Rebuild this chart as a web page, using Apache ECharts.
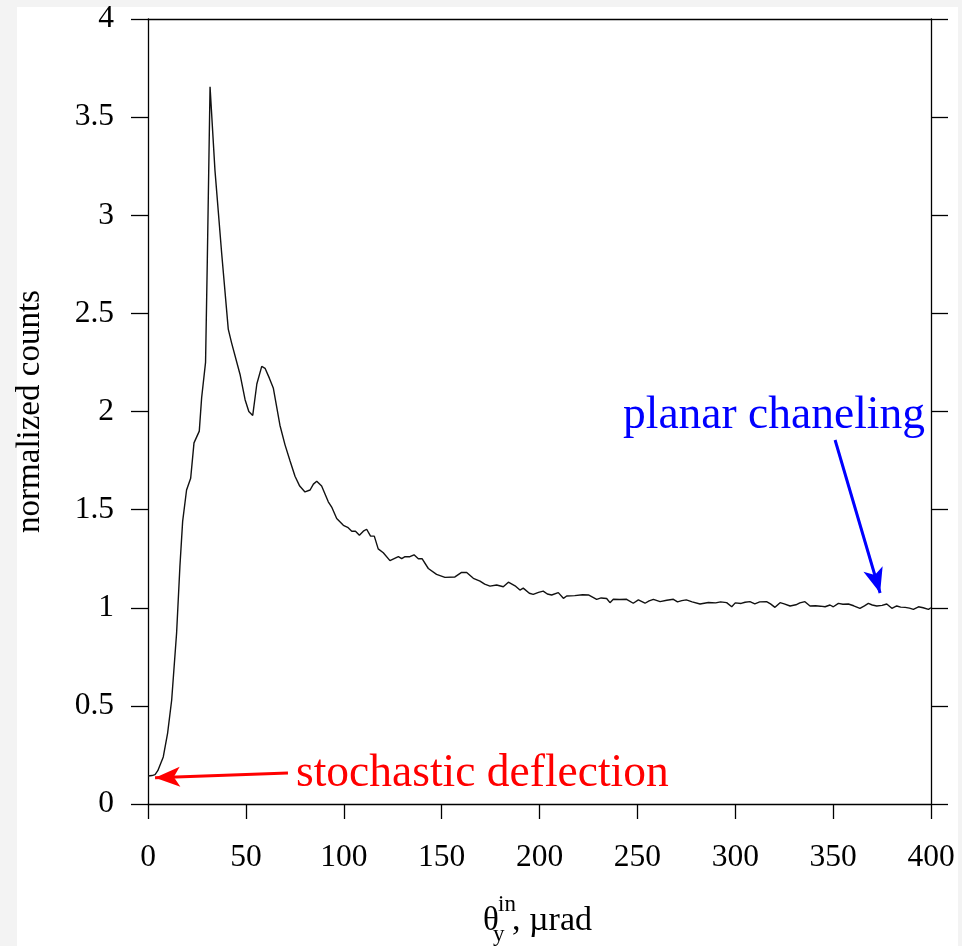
<!DOCTYPE html>
<html>
<head>
<meta charset="utf-8">
<script src="https://cdn.jsdelivr.net/npm/echarts@6/dist/echarts.min.js"></script>
<style>
  html, body { margin: 0; padding: 0; background: #f3f3f3; }
  #panel { position: absolute; left: 17px; top: 7px; width: 941px; height: 939px; background: #fff; }
  #chart { position: absolute; left: 0; top: 0; width: 962px; height: 946px; }
</style>
</head>
<body>
<div id="panel"></div>
<div id="chart"></div>
<script>
// angle theta_y^in, urad
const thetaValues = [0, 2, 3.6, 5, 7.8, 10, 12.1, 14.6, 16.3, 17.7, 19.7, 21.8, 23.5, 26.2, 27.4, 29.4, 30.3, 31.7,
  34.2, 37.6, 41.0, 42.7, 47.0, 49.6, 51.5, 53.5, 55.6, 58.1, 59.8, 62, 64.0, 67.4, 70, 72.5, 75.1, 77.5, 80.2,
  82.8, 84.5, 86.2, 88.7, 92.1, 94, 96.4, 99.8, 102, 104.1, 106, 108, 110, 111.7, 113.7, 115.6, 117.6, 120.2,
  123.6, 127.9, 129.6, 131.3, 133.8, 135.9, 138.1, 140, 143.2, 147.4, 151.7, 156.8, 160.2, 162.8, 166.2, 169.6,
  172, 174.7, 178.1, 181.5, 184.1, 187.5, 190, 191.7, 194.8, 196.8, 199.5, 201.9, 204, 206.2, 209.6, 212.2,
  213.9, 218, 222, 225, 229.2, 231.5, 234.3, 236, 237.7, 241, 244.5, 247.9, 250.5, 253.9, 256, 258.2, 261.6,
  265, 268.4, 270.5, 272.7, 275, 278, 282, 286.3, 290, 292.5, 295.6, 298.2, 300, 303, 305, 307.5, 310, 312.5,
  316, 318, 320.3, 322.9, 325, 328, 331, 333, 335.6, 338.2, 341, 343.5, 345.9, 348.4, 350.1, 352.7, 355, 357.8,
  360.5, 363.7, 366, 368, 370, 372.3, 375, 377.4, 380, 382.5, 384.5, 386.8, 389, 391, 393.6, 396, 398.7, 400];
// normalized counts
const countValues = [0.143, 0.145, 0.15, 0.17, 0.24, 0.36, 0.53, 0.87, 1.21, 1.44, 1.60, 1.66, 1.84, 1.90, 2.07, 2.25, 2.77, 3.655,
  3.23, 2.81, 2.42, 2.35, 2.19, 2.06, 2.00, 1.98, 2.14, 2.23, 2.22, 2.17, 2.12, 1.93, 1.83, 1.75, 1.67, 1.62, 1.59,
  1.60, 1.63, 1.645, 1.62, 1.54, 1.51, 1.455, 1.42, 1.41, 1.39, 1.39, 1.37, 1.39, 1.40, 1.365, 1.365, 1.30, 1.28,
  1.24, 1.26, 1.25, 1.26, 1.26, 1.27, 1.25, 1.25, 1.20, 1.17, 1.155, 1.157, 1.18, 1.18, 1.15, 1.136,
  1.12, 1.11, 1.116, 1.107, 1.13, 1.112, 1.09, 1.10, 1.074, 1.068, 1.078, 1.085, 1.07, 1.065, 1.077, 1.048,
  1.06, 1.062, 1.066, 1.065, 1.043, 1.05, 1.047, 1.026, 1.043, 1.042, 1.043, 1.023, 1.04, 1.023, 1.035, 1.043, 1.031,
  1.038, 1.043, 1.03, 1.036, 1.04, 1.03, 1.019, 1.027, 1.025, 1.03, 1.026, 1.005, 1.025, 1.022, 1.028, 1.031, 1.02, 1.03,
  1.031, 1.02, 1.002, 1.026, 1.02, 1.009, 1.015, 1.025, 1.031, 1.009, 1.01, 1.008, 1.005, 1.014, 1.005, 1.022, 1.018, 1.019,
  1.01, 0.997, 1.01, 1.022, 1.014, 1.009, 1.012, 1.019, 0.997, 1.009, 1.003, 1.002, 0.998, 0.992, 1.005, 1.0, 0.992, 1.0];

const xTicks = [0, 50, 100, 150, 200, 250, 300, 350, 400];
const yTicks = [0, 0.5, 1, 1.5, 2, 2.5, 3, 3.5, 4];

// annotation arrows (data coordinates: [start], [end])
const stochasticArrow = [[71.5, 0.158], [3.6, 0.134]];
const planarArrow = [[351, 1.855], [374, 1.075]];

const FONT = '"Liberation Serif", "Times New Roman", serif';
const lineData = thetaValues.map((x, i) => [x, countValues[i]]);

const chart = echarts.init(document.getElementById('chart'), null, { renderer: 'canvas' });
const axisLineStyle = { color: '#000', width: 1.3 };

chart.setOption({
  animation: false,
  grid: { left: 148, right: 31, top: 19, bottom: 142, containLabel: false },
  xAxis: [
    {
      type: 'value', position: 'bottom', min: xTicks[0], max: xTicks[xTicks.length - 1], interval: 50,
      axisLine: { show: true, lineStyle: axisLineStyle, onZero: false },
      axisTick: { show: true, inside: false, length: 15, lineStyle: axisLineStyle },
      axisLabel: { show: true, margin: 38, fontFamily: FONT, fontSize: 31.5, color: '#000' },
      splitLine: { show: false }
    },
    {
      type: 'value', position: 'top', min: 0, max: 400,
      axisLine: { show: true, lineStyle: axisLineStyle, onZero: false },
      axisTick: { show: false }, axisLabel: { show: false }, splitLine: { show: false }
    }
  ],
  yAxis: [
    {
      type: 'value', position: 'left', min: yTicks[0], max: yTicks[yTicks.length - 1], interval: 0.5,
      name: 'normalized counts', nameLocation: 'middle', nameGap: 101, nameRotate: 90,
      nameTextStyle: { fontFamily: FONT, fontSize: 33, color: '#000' },
      axisLine: { show: true, lineStyle: axisLineStyle, onZero: false },
      axisTick: { show: true, inside: false, length: 17, lineStyle: axisLineStyle },
      axisLabel: { show: true, margin: 34, fontFamily: FONT, fontSize: 31.5, color: '#000' },
      splitLine: { show: false }
    },
    {
      type: 'value', position: 'right', min: 0, max: 4, interval: 0.5,
      axisLine: { show: true, lineStyle: axisLineStyle, onZero: false },
      axisTick: { show: true, inside: false, length: 17, lineStyle: axisLineStyle },
      axisLabel: { show: false }, splitLine: { show: false }
    }
  ],
  series: [
    {
      type: 'line', xAxisIndex: 0, yAxisIndex: 0, data: lineData,
      showSymbol: false, symbol: 'none', smooth: false,
      lineStyle: { color: '#111', width: 1.4 },
      silent: true,
      markLine: {
        silent: true, animation: false,
        symbol: ['none', 'arrow'], symbolSize: [15, 25],
        label: { show: false },
        data: [
          [{ coord: stochasticArrow[0], lineStyle: { color: '#ff0000', width: 3, type: 'solid' }, itemStyle: { color: '#ff0000' } },
           { coord: stochasticArrow[1] }],
          [{ coord: planarArrow[0], lineStyle: { color: '#0000ff', width: 3, type: 'solid' }, itemStyle: { color: '#0000ff' } },
           { coord: planarArrow[1] }]
        ]
      }
    }
  ],
  graphic: [
    { type: 'text', left: 296, top: 751, style: { text: 'stochastic deflection', fill: '#ff0000', font: '45.5px ' + FONT } },
    { type: 'text', left: 623, top: 393, style: { text: 'planar chaneling', fill: '#0000ff', font: '45.5px ' + FONT } },
    { type: 'text', x: 483, y: 921, style: { text: 'θ', fill: '#000', font: '33px ' + FONT, verticalAlign: 'middle', align: 'left' } },
    { type: 'text', x: 498, y: 905, style: { text: 'in', fill: '#000', font: '23px ' + FONT, verticalAlign: 'middle', align: 'left' } },
    { type: 'text', x: 493, y: 935, style: { text: 'y', fill: '#000', font: '23px ' + FONT, verticalAlign: 'middle', align: 'left' } },
    { type: 'text', x: 512, y: 921, style: { text: ', µrad', fill: '#000', font: '34px ' + FONT, verticalAlign: 'middle', align: 'left' } }
  ]
});
</script>
</body>
</html>
